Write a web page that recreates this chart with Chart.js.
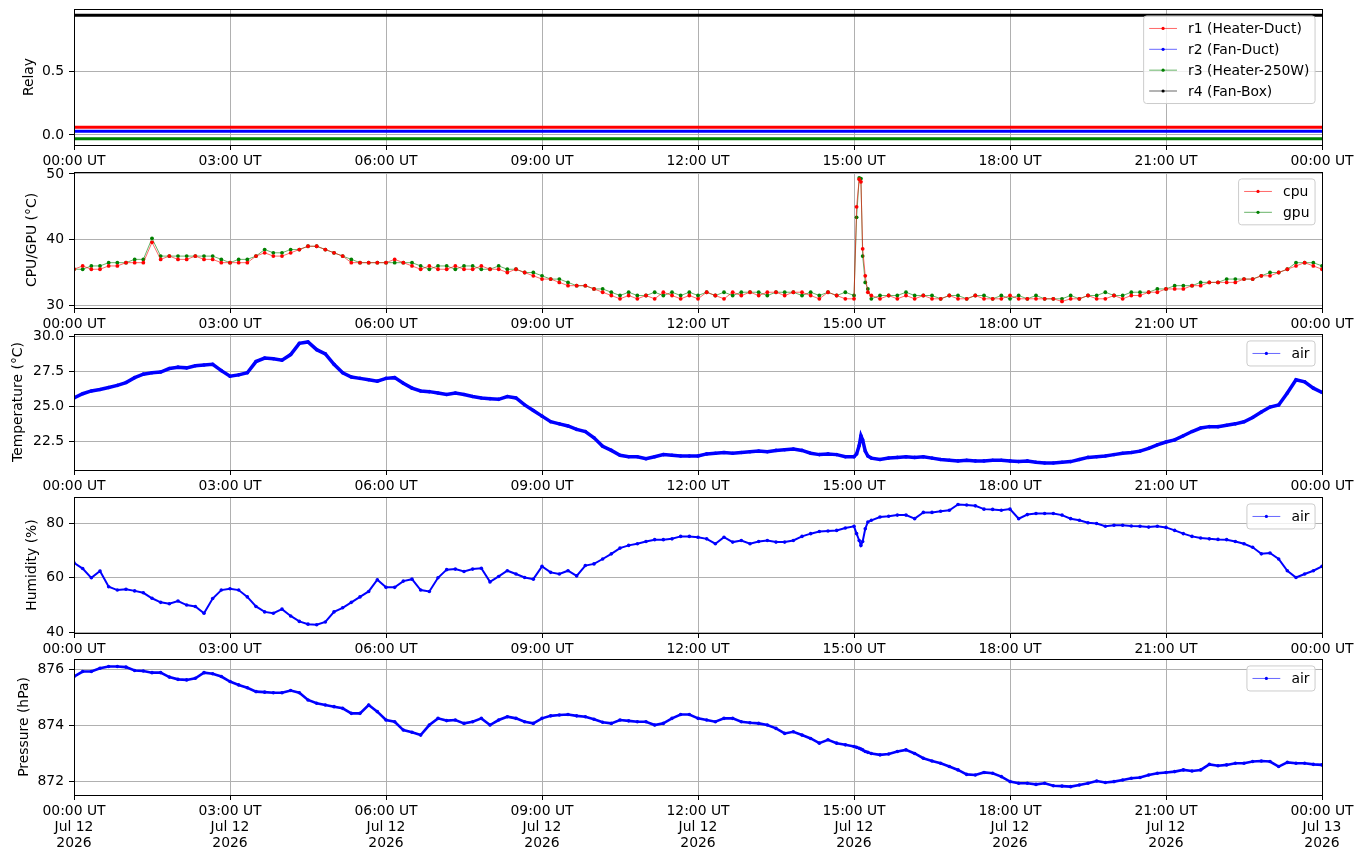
<!DOCTYPE html>
<html>
<head>
<meta charset="utf-8">
<title>Registro de sensores</title>
<script src="https://cdn.jsdelivr.net/npm/chart.js@4.4.1/dist/chart.umd.min.js"></script>
<style>
  html, body { margin: 0; padding: 0; background: #fff; }
  #figura { position: relative; width: 1363px; height: 861px; overflow: hidden; }
  .panel { position: absolute; left: 0; width: 1363px; }
</style>
</head>
<body>
<div id="figura">
  <div class="panel" id="panelRelay"><canvas></canvas></div>
  <div class="panel" id="panelCpu"><canvas></canvas></div>
  <div class="panel" id="panelTemp"><canvas></canvas></div>
  <div class="panel" id="panelHum"><canvas></canvas></div>
  <div class="panel" id="panelPres"><canvas></canvas></div>
</div>
<script>
// sample times (UT)
const times = [
  '00:00','00:10','00:20','00:30','00:40','00:50',
  '01:00','01:10','01:20','01:30','01:40','01:50',
  '02:00','02:10','02:20','02:30','02:40','02:50',
  '03:00','03:10','03:20','03:30','03:40','03:50',
  '04:00','04:10','04:20','04:30','04:40','04:50',
  '05:00','05:10','05:20','05:30','05:40','05:50',
  '06:00','06:10','06:20','06:30','06:40','06:50',
  '07:00','07:10','07:20','07:30','07:40','07:50',
  '08:00','08:10','08:20','08:30','08:40','08:50',
  '09:00','09:10','09:20','09:30','09:40','09:50',
  '10:00','10:10','10:20','10:30','10:40','10:50',
  '11:00','11:10','11:20','11:30','11:40','11:50',
  '12:00','12:10','12:20','12:30','12:40','12:50',
  '13:00','13:10','13:20','13:30','13:40','13:50',
  '14:00','14:10','14:20','14:30','14:40','14:50',
  '15:00','15:03','15:06','15:08','15:10','15:13','15:16','15:20','15:30','15:40','15:50',
  '16:00','16:10','16:20','16:30','16:40','16:50',
  '17:00','17:10','17:20','17:30','17:40','17:50',
  '18:00','18:10','18:20','18:30','18:40','18:50',
  '19:00','19:10','19:20','19:30','19:40','19:50',
  '20:00','20:10','20:20','20:30','20:40','20:50',
  '21:00','21:10','21:20','21:30','21:40','21:50',
  '22:00','22:10','22:20','22:30','22:40','22:50',
  '23:00','23:10','23:20','23:30','23:40','23:50',
  '24:00'
];

const relayTimes = ['00:00', '24:00'];
const relayNames = ['r1 (Heater-Duct)', 'r2 (Fan-Duct)', 'r3 (Heater-250W)', 'r4 (Fan-Box)'];
const r1 = [0.06, 0.06];
const r2 = [0.03, 0.03];
const r3 = [-0.03, -0.03];
const r4 = [0.94, 0.94];

const cpu = [
  35.5, 36.0, 35.5, 35.5, 36.0, 36.0,
  36.5, 36.5, 36.5, 39.6, 37.0, 37.5,
  37.0, 37.0, 37.5, 37.0, 37.0, 36.5,
  36.5, 36.5, 36.5, 37.5, 38.0, 37.5,
  37.5, 38.0, 38.5, 39.0, 39.0, 38.5,
  38.0, 37.5, 36.5, 36.5, 36.5, 36.5,
  36.5, 37.0, 36.5, 36.0, 35.5, 36.0,
  35.5, 35.5, 36.0, 35.5, 35.5, 36.0,
  35.5, 35.5, 35.0, 35.5, 35.0, 34.5,
  34.0, 34.0, 33.5, 33.0, 33.0, 33.0,
  32.5, 32.0, 31.5, 31.0, 31.5, 31.0,
  31.5, 31.0, 32.0, 31.5, 31.0, 31.5,
  31.0, 32.0, 31.5, 31.0, 32.0, 31.5,
  32.0, 31.5, 32.0, 32.0, 31.5, 32.0,
  32.0, 31.5, 31.0, 32.0, 31.5, 31.0,
  31.0, 45.0, 49.2, 48.8, 38.6, 34.5, 32.0, 31.5, 31.0, 31.5, 31.0,
  31.5, 31.0, 31.5, 31.0, 31.0, 31.5,
  31.0, 31.0, 31.5, 31.0, 31.0, 31.0,
  31.5, 31.0, 31.0, 31.0, 31.0, 31.0,
  30.6, 31.0, 31.0, 31.5, 31.0, 31.0,
  31.5, 31.0, 31.5, 31.5, 32.0, 32.0,
  32.5, 32.5, 32.5, 33.0, 33.0, 33.5,
  33.5, 33.5, 33.5, 34.0, 34.0, 34.5,
  34.5, 35.0, 35.5, 36.0, 36.5, 36.0,
  35.5
];
const gpu = [
  35.5, 35.5, 36.0, 36.0, 36.5, 36.5,
  36.5, 37.0, 37.0, 40.2, 37.5, 37.5,
  37.5, 37.5, 37.5, 37.5, 37.5, 37.0,
  36.5, 37.0, 37.0, 37.5, 38.5, 38.0,
  38.0, 38.5, 38.5, 39.0, 39.0, 38.5,
  38.0, 37.5, 37.0, 36.5, 36.5, 36.5,
  36.5, 36.5, 36.5, 36.5, 36.0, 35.5,
  36.0, 36.0, 35.5, 36.0, 36.0, 35.5,
  35.5, 36.0, 35.5, 35.5, 35.0, 35.0,
  34.5, 34.0, 34.0, 33.5, 33.0, 33.0,
  32.5, 32.5, 32.0, 31.5, 32.0, 31.5,
  31.5, 32.0, 31.5, 32.0, 31.5, 32.0,
  31.5, 32.0, 31.5, 32.0, 31.5, 32.0,
  32.0, 32.0, 31.5, 32.0, 32.0, 32.0,
  31.5, 32.0, 31.5, 32.0, 31.5, 32.0,
  31.5, 43.4, 49.4, 49.3, 37.5, 33.5, 32.5, 31.0, 31.5, 31.5, 31.5,
  32.0, 31.5, 31.5, 31.5, 31.0, 31.5,
  31.5, 31.0, 31.5, 31.5, 31.0, 31.5,
  31.0, 31.5, 31.0, 31.5, 31.0, 31.0,
  31.0, 31.5, 31.0, 31.5, 31.5, 32.0,
  31.5, 31.5, 32.0, 32.0, 32.0, 32.5,
  32.5, 33.0, 33.0, 33.0, 33.5, 33.5,
  33.5, 34.0, 34.0, 34.0, 34.0, 34.5,
  35.0, 35.0, 35.5, 36.5, 36.5, 36.5,
  36.0
];

const airTemp = [
  25.6, 25.9, 26.1, 26.2, 26.35, 26.5,
  26.7, 27.05, 27.3, 27.4, 27.45, 27.7,
  27.8, 27.75, 27.9, 27.95, 28.0, 27.55,
  27.15, 27.25, 27.4, 28.2, 28.45, 28.4,
  28.3, 28.7, 29.5, 29.6, 29.05, 28.75,
  28.0, 27.4, 27.1, 27.0, 26.9, 26.8,
  27.0, 27.05, 26.65, 26.3, 26.1, 26.05,
  25.95, 25.85, 25.95, 25.85, 25.7, 25.6,
  25.55, 25.5, 25.7, 25.6, 25.1, 24.7,
  24.3, 23.9, 23.75, 23.6, 23.35, 23.2,
  22.75, 22.15, 21.85, 21.5, 21.4, 21.4,
  21.25, 21.4, 21.55, 21.5, 21.45, 21.45,
  21.45, 21.6, 21.65, 21.7, 21.65, 21.7,
  21.75, 21.8, 21.75, 21.85, 21.9, 21.95,
  21.85, 21.65, 21.55, 21.6, 21.55, 21.4,
  21.4, 21.6, 22.2, 22.9, 22.6, 21.8, 21.45, 21.3, 21.2, 21.3, 21.35,
  21.4, 21.35, 21.4, 21.3, 21.2, 21.15,
  21.1, 21.15, 21.1, 21.1, 21.15, 21.15,
  21.1, 21.05, 21.1, 21.0, 20.95, 20.95,
  21.0, 21.05, 21.2, 21.35, 21.4, 21.45,
  21.55, 21.65, 21.7, 21.8, 22.0, 22.25,
  22.45, 22.6, 22.9, 23.2, 23.45, 23.55,
  23.55, 23.65, 23.75, 23.9, 24.2, 24.6,
  24.95, 25.1, 25.95, 26.9, 26.75, 26.3,
  26.0
];

const airHum = [
  65.5, 63.4, 60.0, 62.5, 56.7, 55.5,
  55.8, 55.2, 54.5, 52.5, 51.0, 50.5,
  51.5, 50.0, 49.5, 47.0, 52.4, 55.5,
  56.0, 55.5, 53.0, 49.5, 47.5, 47.0,
  48.5, 46.0, 44.0, 43.0, 42.8, 43.8,
  47.5, 49.0, 51.0, 53.0, 55.0, 59.3,
  56.5, 56.5, 58.8, 59.5, 55.5, 55.0,
  60.0, 63.0, 63.2, 62.3, 63.2, 63.5,
  58.5, 60.5, 62.6, 61.4, 60.1, 59.5,
  64.2, 62.0, 61.4, 62.6, 60.7, 64.5,
  65.1, 66.9, 68.8, 70.9, 71.9, 72.5,
  73.3, 74.0, 74.0, 74.3, 75.2, 75.2,
  74.9, 74.3, 72.5, 74.9, 73.1, 73.7,
  72.5, 73.3, 73.7, 73.1, 73.1, 73.7,
  75.2, 76.2, 77.0, 77.2, 77.4, 78.3,
  78.9, 76.2, 73.7, 71.9, 73.3, 78.0, 80.5, 81.1, 82.3, 82.6, 83.0,
  83.0, 81.7, 84.0, 84.0, 84.4, 84.8,
  86.9, 86.7, 86.4, 85.2, 85.1, 84.8,
  85.2, 81.7, 83.2, 83.6, 83.6, 83.6,
  83.0, 81.7, 81.1, 80.2, 79.9, 78.9,
  79.3, 79.3, 79.0, 78.9, 78.6, 78.9,
  78.5, 77.4, 76.2, 75.2, 74.6, 74.3,
  74.1, 74.0, 73.3, 72.5, 71.2, 68.8,
  69.1, 66.9, 62.6, 60.1, 61.4, 62.6,
  64.2
];

const airPres = [
  875.76, 875.94, 875.94, 876.06, 876.12, 876.12,
  876.10, 875.98, 875.96, 875.90, 875.90, 875.74,
  875.66, 875.64, 875.70, 875.90, 875.86, 875.76,
  875.58, 875.46, 875.36, 875.22, 875.20, 875.18,
  875.18, 875.26, 875.18, 874.92, 874.80, 874.74,
  874.68, 874.62, 874.44, 874.44, 874.74, 874.50,
  874.20, 874.14, 873.84, 873.76, 873.66, 874.02,
  874.26, 874.18, 874.20, 874.08, 874.14, 874.26,
  874.02, 874.20, 874.32, 874.26, 874.14, 874.08,
  874.26, 874.35, 874.38, 874.40, 874.35, 874.32,
  874.23, 874.12, 874.08, 874.20, 874.17, 874.14,
  874.14, 874.02, 874.08, 874.26, 874.40, 874.40,
  874.26, 874.20, 874.14, 874.26, 874.26, 874.14,
  874.10, 874.08, 874.02, 873.90, 873.72, 873.78,
  873.66, 873.54, 873.37, 873.49, 873.37, 873.31,
  873.25, 873.22, 873.19, 873.16, 873.13, 873.07, 873.04, 873.00, 872.95, 872.98, 873.07,
  873.13, 873.00, 872.83, 872.73, 872.65, 872.53,
  872.41, 872.25, 872.23, 872.32, 872.29, 872.17,
  871.99, 871.93, 871.93, 871.89, 871.93, 871.84,
  871.83, 871.81, 871.87, 871.93, 872.01, 871.96,
  871.99, 872.05, 872.11, 872.14, 872.23, 872.29,
  872.32, 872.35, 872.41, 872.37, 872.41, 872.61,
  872.56, 872.59, 872.65, 872.65, 872.71, 872.73,
  872.71, 872.53, 872.68, 872.65, 872.65, 872.61,
  872.59
];

// axis ticks
const xTickHours = [0, 3, 6, 9, 12, 15, 18, 21, 24];
const xTickLabels = ['00:00 UT', '03:00 UT', '06:00 UT', '09:00 UT', '12:00 UT', '15:00 UT', '18:00 UT', '21:00 UT', '00:00 UT'];
const xDateLabels = ['Jul 12', 'Jul 12', 'Jul 12', 'Jul 12', 'Jul 12', 'Jul 12', 'Jul 12', 'Jul 12', 'Jul 13'];
const xYearLabel = '2026';

const relayTicks = [0, 0.5];
const relayTickLabels = ['0.0', '0.5'];
const cpuTicks = [30, 40, 50];
const cpuTickLabels = ['30', '40', '50'];
const tempTicks = [22.5, 25, 27.5, 30];
const tempTickLabels = ['22.5', '25.0', '27.5', '30.0'];
const humTicks = [40, 60, 80];
const humTickLabels = ['40', '60', '80'];
const presTicks = [872, 874, 876];
const presTickLabels = ['872', '874', '876'];

// layout (pixels)
const PLOT_TOPS = [9, 172, 334, 497, 659];
const PLOT_H = 136;
const PAD_TOP = 20;
const FS = 13.9;

Chart.defaults.font.family = '"DejaVu Sans", sans-serif';
Chart.defaults.font.size = FS;
Chart.defaults.color = '#000';

const toHours = s => { const [h, m] = s.split(':').map(Number); return h + m / 60; };
const hours = times.map(toHours);
const relayHours = relayTimes.map(toHours);
const pts = (xs, ys) => ys.map((y, i) => ({ x: xs[i], y: y }));

function roundedBox(ctx, x, y, w, h, r) {
  ctx.beginPath();
  ctx.moveTo(x + r, y);
  ctx.arcTo(x + w, y, x + w, y + h, r);
  ctx.arcTo(x + w, y + h, x, y + h, r);
  ctx.arcTo(x, y + h, x, y, r);
  ctx.arcTo(x, y, x + w, y, r);
  ctx.closePath();
}

// axes frame + matplotlib-like legend in the upper right
const mplFrame = {
  id: 'mplFrame',
  afterDatasetsDraw(chart) {
    const { ctx, chartArea: a } = chart;
    ctx.save();
    ctx.strokeStyle = '#000';
    ctx.lineWidth = 1;
    ctx.strokeRect(Math.round(a.left) + 0.5, Math.round(a.top) + 0.5,
      Math.round(a.right - a.left), Math.round(a.bottom - a.top));

    const sets = chart.data.datasets;
    ctx.font = FS + 'px "DejaVu Sans", sans-serif';
    const textW = Math.max(...sets.map(d => ctx.measureText(d.label).width));
    const pad = 0.4 * FS, handle = 2.0 * FS, gap = 0.8 * FS, row = 1.5 * FS;
    const w = pad + handle + gap + textW + pad;
    const h = 2 * pad + sets.length * FS + (sets.length - 1) * 0.5 * FS;
    const x0 = a.right - 0.5 * FS - w;
    const y0 = a.top + 0.5 * FS;
    roundedBox(ctx, x0, y0, w, h, 3);
    ctx.fillStyle = 'rgba(255,255,255,0.8)';
    ctx.fill();
    ctx.strokeStyle = '#cccccc';
    ctx.lineWidth = 1;
    ctx.stroke();

    sets.forEach((d, i) => {
      const yc = y0 + pad + FS / 2 + i * row;
      ctx.strokeStyle = d.borderColor;
      ctx.globalAlpha = 0.75;
      ctx.lineWidth = 0.8;
      ctx.beginPath();
      ctx.moveTo(x0 + pad, yc);
      ctx.lineTo(x0 + pad + handle, yc);
      ctx.stroke();
      ctx.globalAlpha = 1;
      ctx.fillStyle = d.borderColor;
      ctx.beginPath();
      ctx.arc(x0 + pad + handle / 2, yc, 1.6, 0, Math.PI * 2);
      ctx.fill();
      ctx.fillStyle = '#000';
      ctx.textBaseline = 'middle';
      ctx.textAlign = 'left';
      ctx.fillText(d.label, x0 + pad + handle + gap, yc + 1);
    });
    ctx.restore();
  }
};

function makePanel(id, idx, datasets, y, bottom) {
  const xh = bottom ? 66 : 30;
  const div = document.getElementById(id);
  div.style.top = (PLOT_TOPS[idx] - PAD_TOP) + 'px';
  div.style.height = (PAD_TOP + PLOT_H + xh) + 'px';

  new Chart(div.querySelector('canvas'), {
    type: 'line',
    data: { datasets: datasets },
    plugins: [mplFrame],
    options: {
      responsive: true,
      maintainAspectRatio: false,
      animation: false,
      layout: { padding: { top: PAD_TOP, right: 41, left: 0, bottom: 0 } },
      plugins: { legend: { display: false }, tooltip: { enabled: false } },
      elements: { line: { tension: 0 } },
      scales: {
        x: {
          type: 'linear',
          min: 0,
          max: 24,
          afterBuildTicks: s => { s.ticks = xTickHours.map(v => ({ value: v })); },
          afterFit: s => { s.height = xh; },
          grid: { color: '#b0b0b0', lineWidth: 1, tickColor: '#000', tickLength: 5, tickWidth: 1 },
          border: { display: false },
          ticks: {
            autoSkip: false,
            maxRotation: 0,
            padding: 3,
            color: '#000',
            font: { size: FS, lineHeight: 1.15 },
            callback: (v, i) => bottom ? [xTickLabels[i], xDateLabels[i], xYearLabel] : xTickLabels[i]
          }
        },
        y: {
          min: y.min,
          max: y.max,
          afterBuildTicks: s => { s.ticks = y.ticks.map(v => ({ value: v })); },
          afterFit: s => { s.width = 74; },
          grid: { color: '#b0b0b0', lineWidth: 1, tickColor: '#000', tickLength: 5, tickWidth: 1 },
          border: { display: false },
          ticks: { padding: 5, color: '#000', callback: (v, i) => y.labels[i] },
          title: { display: true, text: y.title, color: '#000', font: { size: FS }, padding: { top: y.titlePad, bottom: 0 } }
        }
      }
    }
  });
}

const dot = (label, color, xs, ys, lw, r) => ({
  label: label,
  data: pts(xs, ys),
  borderColor: color,
  backgroundColor: color,
  borderWidth: lw,
  pointRadius: r,
  pointBorderWidth: 0,
  pointBackgroundColor: color
});

makePanel('panelRelay', 0, [
  dot(relayNames[0], '#ff0000', relayHours, r1, 3, 0),
  dot(relayNames[1], '#0000ff', relayHours, r2, 3, 0),
  dot(relayNames[2], '#008000', relayHours, r3, 3, 0),
  dot(relayNames[3], '#000000', relayHours, r4, 3, 0)
], { min: -0.0785, max: 0.9885, ticks: relayTicks, labels: relayTickLabels, title: 'Relay', titlePad: 21 }, false);

makePanel('panelCpu', 1, [
  dot('cpu', '#ff0000', hours, cpu, 0.6, 1.9),
  dot('gpu', '#008000', hours, gpu, 0.6, 1.9)
], { min: 29.6, max: 50.3, ticks: cpuTicks, labels: cpuTickLabels, title: 'CPU/GPU (°C)', titlePad: 24 }, false);

makePanel('panelTemp', 2, [
  dot('air', '#0000ff', hours, airTemp, 3.5, 1.8)
], { min: 20.45, max: 30.17, ticks: tempTicks, labels: tempTickLabels, title: 'Temperature (°C)', titlePad: 10 }, false);

makePanel('panelHum', 3, [
  dot('air', '#0000ff', hours, airHum, 2, 1.8)
], { min: 39.75, max: 89.65, ticks: humTicks, labels: humTickLabels, title: 'Humidity (%)', titlePad: 24 }, false);

makePanel('panelPres', 4, [
  dot('air', '#0000ff', hours, airPres, 2.6, 1.8)
], { min: 871.51, max: 876.39, ticks: presTicks, labels: presTickLabels, title: 'Pressure (hPa)', titlePad: 16 }, true);
</script>
</body>
</html>
